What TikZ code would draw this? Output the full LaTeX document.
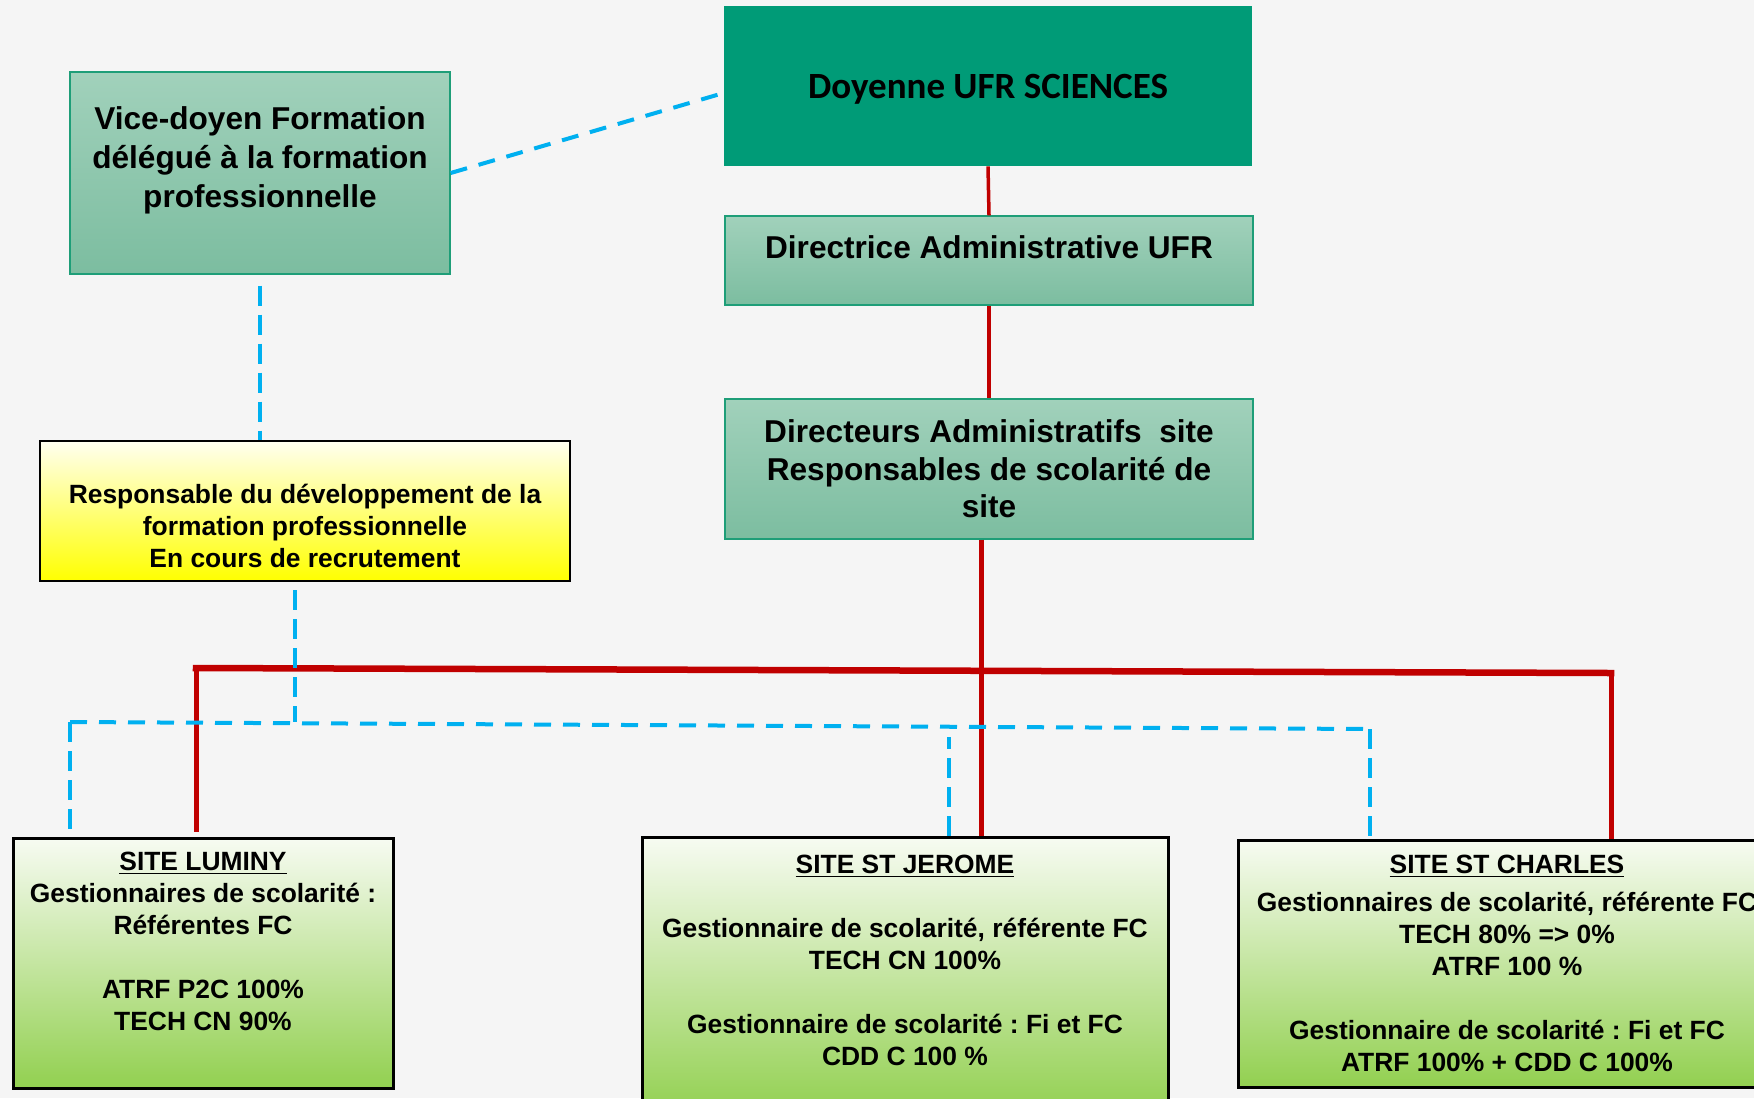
\documentclass[tikz,border=0pt]{standalone}
\usepackage{fontspec}
\setmainfont{Liberation Sans}
\newfontfamily\doyenfont{Carlito}
\usepackage{tikz}
\usetikzlibrary{shadings}
\frenchspacing
\definecolor{pagebg}{HTML}{F5F5F5}
\definecolor{doyengreen}{HTML}{009B77}
\definecolor{tealtop}{HTML}{A1D1BB}
\definecolor{tealbot}{HTML}{7CBDA0}
\definecolor{tealedge}{HTML}{1E9E78}
\definecolor{sitetop}{HTML}{F7FBF2}
\definecolor{sitebot}{HTML}{92D050}
\definecolor{recrutop}{HTML}{FFFFF0}
\definecolor{recrubot}{HTML}{FFFF00}
\definecolor{linkred}{HTML}{C00000}
\definecolor{linkblue}{HTML}{00B0F0}

\begin{document}
\begin{tikzpicture}[x=0.5pt,y=-0.5pt,
  tealbox/.style={draw=tealedge,line width=0.7pt,top color=tealtop,bottom color=tealbot,align=center,inner sep=0pt,font=\bfseries\fontsize{15.8}{19.5}\selectfont},
  sitebox/.style={draw=black,line width=1.5pt,top color=sitetop,bottom color=sitebot,align=center,inner sep=0pt,font=\bfseries\fontsize{13.2}{16}\selectfont},
  redlink/.style={draw=linkred,line width=#1},
  redlink/.default=2.5pt,
  bluelink/.style={draw=linkblue,line width=2pt,dash pattern=on 8.5pt off 6pt},
  bluedrop/.style={draw=linkblue,line width=1.6pt,dash pattern=on 10pt off 4.5pt}]
\fill[pagebg] (0,0) rectangle (1754,1098);
\useasboundingbox (0,0) rectangle (1754,1098);

\node[fill=doyengreen,minimum width=264pt,minimum height=80pt,inner sep=0pt,text depth=0pt,font=\doyenfont\bfseries\fontsize{18.5}{22}\selectfont] (doyenne) at (988,86) {Doyenne UFR SCIENCES};
\node[tealbox,minimum width=190pt,minimum height=101pt] (vicedoyen) at (260,173) {Vice-doyen Formation\\délégué à la formation\\professionnelle\\[-3.4pt]\mbox{}};
\node[tealbox,minimum width=264pt,minimum height=44.5pt] (directrice) at (989,260.5) {Directrice Administrative UFR\\[-5.6pt]\mbox{}};
\node[tealbox,minimum width=264pt,minimum height=70pt,font=\bfseries\fontsize{15.8}{18.75}\selectfont] (dirsite) at (989,469) {Directeurs Administratifs\ \ site\\Responsables de scolarité de\\site};
\node[draw=black,line width=1.25pt,top color=recrutop,bottom color=recrubot,minimum width=265pt,minimum height=70pt,inner sep=0pt,align=center,font=\bfseries\fontsize{13.2}{16}\selectfont] (respdev) at (305,511) {\mbox{}\\[9pt]Responsable du développement de la\\formation professionnelle\\En cours de recrutement};

\node[sitebox,minimum width=190pt,minimum height=125pt] (luminy) at (203,963) {\underline{SITE LUMINY}\\Gestionnaires de scolarité :\\Référentes FC\\\mbox{}\\ATRF P2C 100\%\\TECH CN 90\%\\[5.5pt]\mbox{}};
\node[sitebox,minimum width=263pt,minimum height=139pt] (jerome) at (905,976) {\underline{SITE ST JEROME}\\\mbox{}\\Gestionnaire de scolarité, référente FC\\TECH CN 100\%\\\mbox{}\\Gestionnaire de scolarité : Fi et FC\\CDD C 100 \%\\\mbox{}};
\node[sitebox,minimum width=269pt,minimum height=123.5pt] (charles) at (1507,963.5) {\underline{SITE ST CHARLES}\\[3pt]Gestionnaires de scolarité, référente FC\\TECH 80\% => 0\%\\ATRF 100 \%\\\mbox{}\\Gestionnaire de scolarité : Fi et FC\\ATRF 100\% + CDD C 100\%};

\coordinate (barL) at (196,668);
\coordinate (barR) at (1611,673);
\coordinate (busL) at (70,722);
\coordinate (busR) at (1370,729);

\draw[redlink=1.75pt] (doyenne.south) -- (directrice.north);
\draw[redlink=1.75pt] (directrice.south) -- (dirsite.north);
\draw[redlink] ([xshift=-4pt]dirsite.south) -- ([xshift=-4pt]dirsite.south |- jerome.north);
\draw[redlink=3.25pt,line cap=rect] (barL) -- (barR);
\draw[redlink] (barL) -- ([yshift=2.5pt]barL |- luminy.north);
\draw[redlink] (barR) -- (barR |- charles.north);

\draw[bluelink] (vicedoyen.east) -- ([yshift=-3.5pt]doyenne.west);
\draw[bluedrop] ([yshift=-5.5pt]vicedoyen.south) -- (vicedoyen.south |- respdev.north);
\draw[bluedrop] ([xshift=-5pt,yshift=-4pt]respdev.south) -- ([xshift=-5pt]respdev.south |- busL);
\draw[bluelink] (busL) -- (busR);
\draw[bluedrop] (busL) -- (busL |- luminy.north);
\draw[bluedrop] ([xshift=22pt]jerome.north) -- ++(0,-99);
\draw[bluedrop] (busR) -- (busR |- charles.north);
\end{tikzpicture}
\end{document}
